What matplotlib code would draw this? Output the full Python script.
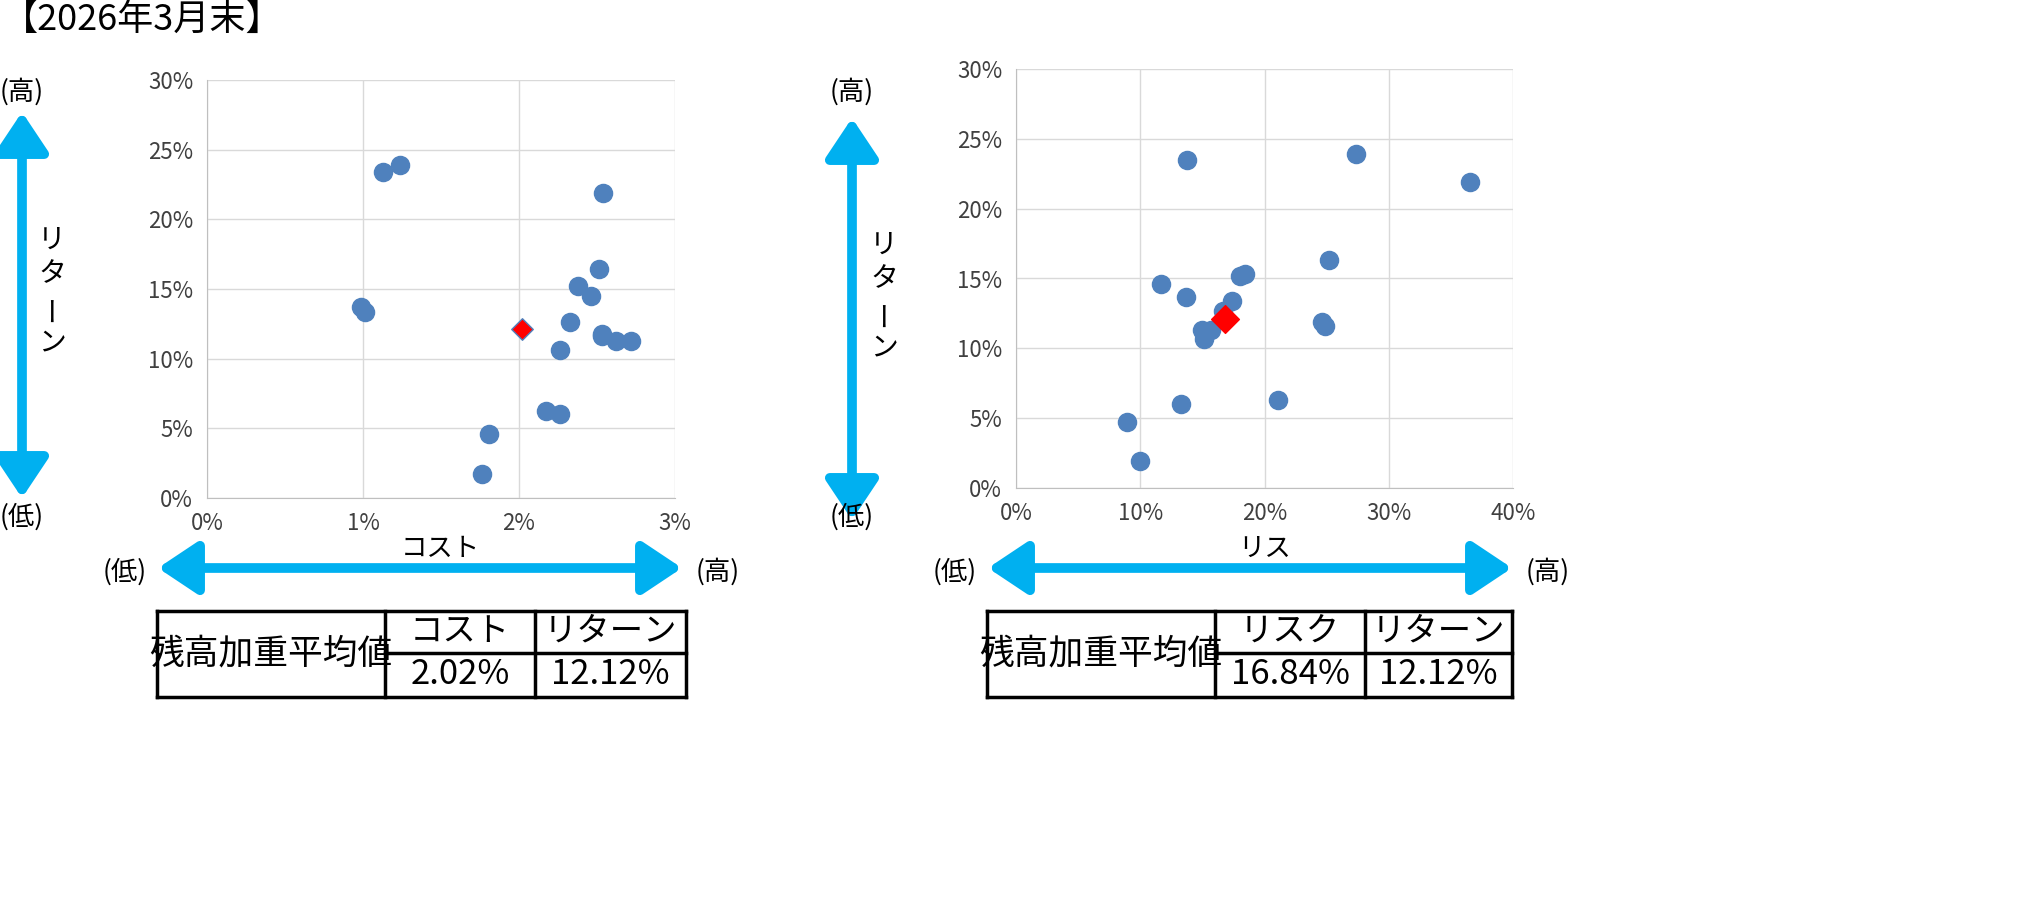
import matplotlib
matplotlib.use("Agg")
import matplotlib.pyplot as plt
from matplotlib.ticker import PercentFormatter
from matplotlib.lines import Line2D

plt.rcParams['font.family'] = ['Noto Sans CJK JP', 'DejaVu Sans']

# left chart: cost vs return (%)
cost = [0.99, 1.01, 1.13, 1.24, 2.54, 2.51, 2.38, 2.46, 2.33, 2.53, 2.53, 2.62, 2.72, 2.26, 2.17, 2.26, 1.81, 1.76]
ret_l = [13.7, 13.35, 23.4, 23.9, 21.9, 16.4, 15.2, 14.5, 12.6, 11.8, 11.6, 11.3, 11.3, 10.6, 6.25, 6.0, 4.6, 1.7]
# right chart: risk vs return (%)
risk = [8.9, 10.0, 11.7, 13.8, 13.7, 13.3, 15.0, 15.1, 15.7, 16.7, 17.4, 18.0, 18.4, 21.1, 24.6, 24.9, 25.2, 27.4, 36.5]
ret_r = [4.7, 1.9, 14.6, 23.5, 13.7, 6.0, 11.3, 10.7, 11.3, 12.7, 13.4, 15.2, 15.3, 6.3, 11.9, 11.6, 16.3, 23.9, 21.9]
avg_cost, avg_risk, avg_ret = 2.02, 16.84, 12.12

W, H = 2039, 909
fig = plt.figure(figsize=(W / 100, H / 100), dpi=100)
BLUE = '#4F81BD'
CYAN = '#00B0F0'


def px_axes(x0, y0, x1, y1):
    return fig.add_axes([x0 / W, 1 - y1 / H, (x1 - x0) / W, (y1 - y0) / H])


def style(ax, xmax, xstep):
    ax.set_xlim(0, xmax)
    ax.set_ylim(0, 30)
    ax.set_xticks(range(0, xmax + 1, xstep))
    ax.set_yticks(range(0, 31, 5))
    ax.xaxis.set_major_formatter(PercentFormatter(decimals=0))
    ax.yaxis.set_major_formatter(PercentFormatter(decimals=0))
    ax.grid(color='#D9D9D9', lw=1)
    ax.set_axisbelow(True)
    for s in ['top', 'right']:
        ax.spines[s].set_visible(False)
    for s in ['left', 'bottom']:
        ax.spines[s].set_color('#BFBFBF')
    ax.tick_params(length=0, labelsize=16, colors='#404040', pad=10)


ax1 = px_axes(207, 80, 675, 498)
ax1.scatter(cost, ret_l, s=170, color=BLUE, zorder=3)
ax1.scatter([avg_cost], [avg_ret], s=120, marker='D', color='red', edgecolor=BLUE, lw=1, zorder=4)
style(ax1, 3, 1)

ax2 = px_axes(1016, 69, 1513, 488)
ax2.scatter(risk, ret_r, s=170, color=BLUE, zorder=3)
ax2.scatter([avg_risk], [avg_ret], s=200, marker='D', color='red', zorder=4)
style(ax2, 40, 10)


def fx(x):
    return x / W


def fy(y):
    return 1 - y / H


def arrow(x0, y0, x1, y1):
    fig.add_artist(matplotlib.patches.FancyArrowPatch(
        (fx(x0), fy(y0)), (fx(x1), fy(y1)), transform=fig.transFigure,
        arrowstyle='<|-|>,head_length=1.2,head_width=0.8', color=CYAN, lw=7,
        mutation_scale=20, shrinkA=0, shrinkB=0))


def txt(x, y, s, size=19, **kw):
    fig.text(fx(x), fy(y), s, fontsize=size, ha='center', va='center', **kw)


fig.text(fx(2), fy(20), '【2026年3月末】', fontsize=26, va='center')

# left decorations
arrow(22, 112, 22, 498)
txt(22, 92, '(高)')
txt(22, 517, '(低)')
for i, ch in enumerate('リターン'):
    txt(52, 240 + i * 34, ch, size=20, rotation=90 if ch == 'ー' else 0)
txt(440, 548, 'コスト', size=19)
arrow(158, 568, 682, 568)
txt(125, 572, '(低)')
txt(718, 572, '(高)')

# right decorations
arrow(852, 118, 852, 520)
txt(852, 92, '(高)')
txt(852, 517, '(低)')
for i, ch in enumerate('リターン'):
    txt(884, 245 + i * 34, ch, size=20, rotation=90 if ch == 'ー' else 0)
txt(1265, 548, 'リス', size=19)
arrow(988, 568, 1512, 568)
txt(955, 572, '(低)')
txt(1548, 572, '(高)')


def table(x0, c1, c2, x3, label, name, val):
    y0, ym, y1 = 611, 653, 697
    segs = [((x0, x3), (y0, y0)), ((x0, x3), (y1, y1)), ((x0, x0), (y0, y1)), ((x3, x3), (y0, y1)),
            ((c1, c1), (y0, y1)), ((c2, c2), (y0, y1)), ((c1, x3), (ym, ym))]
    for xs, ys in segs:
        fig.add_artist(Line2D([fx(v) for v in xs], [fy(v) for v in ys], color='black', lw=2.5))
    txt((x0 + c1) / 2, 654, label, size=25)
    txt((c1 + c2) / 2, 631, name, size=24)
    txt((c2 + x3) / 2, 631, 'リターン', size=24)
    txt((c1 + c2) / 2, 675, val, size=25)
    txt((c2 + x3) / 2, 675, f'{avg_ret:.2f}%', size=25)


table(157, 385, 535, 686, '残高加重平均値', 'コスト', f'{avg_cost:.2f}%')
table(987, 1215, 1365, 1512, '残高加重平均値', 'リスク', f'{avg_risk:.2f}%')

fig.savefig('out.png', dpi=100)
